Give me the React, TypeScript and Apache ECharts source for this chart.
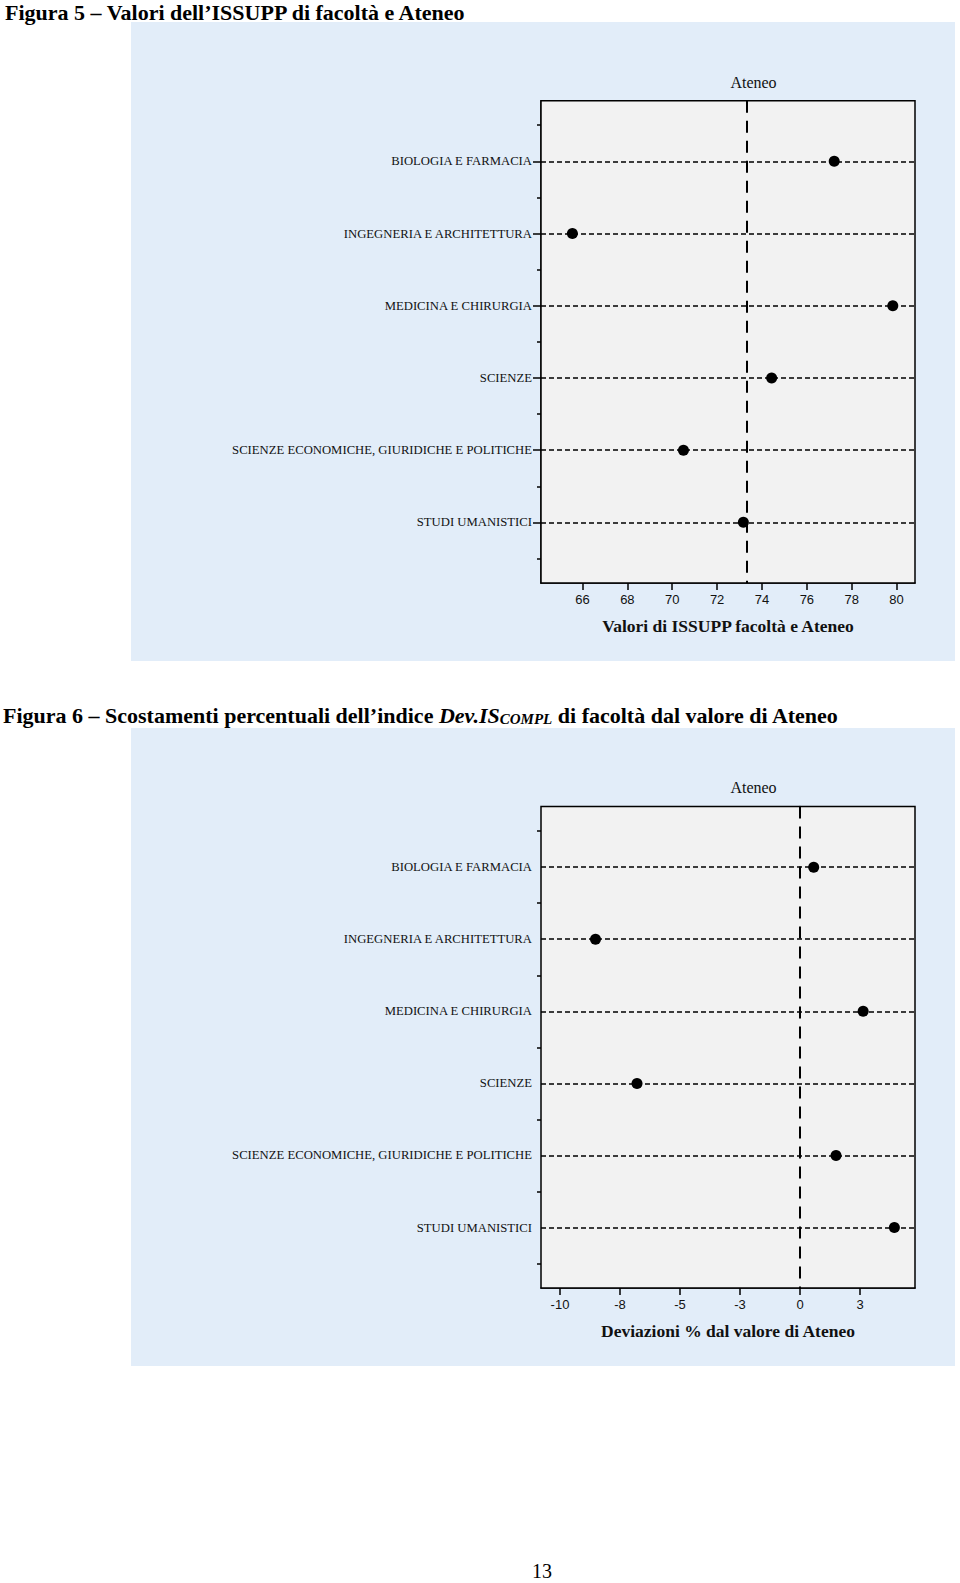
import React, { useEffect, useRef } from "react";
import * as echarts from "echarts";

const categories = [
  "BIOLOGIA E FARMACIA",
  "INGEGNERIA E ARCHITETTURA",
  "MEDICINA E CHIRURGIA",
  "SCIENZE",
  "SCIENZE ECONOMICHE, GIURIDICHE E POLITICHE",
  "STUDI UMANISTICI",
];
const categoryPositions = [1, 2, 3, 4, 5, 6];
const categoryMinorTicks = [0.5, 1.5, 2.5, 3.5, 4.5, 5.5, 6.5];

const issuppValues = [77.22, 65.55, 79.83, 74.43, 70.5, 73.17];
const issuppAteneo = 73.33;
const issuppTicks = [66, 68, 70, 72, 74, 76, 78, 80];

const devValues = [0.57, -8.52, 2.63, -6.79, 1.5, 3.93];
const devAteneo = 0;
const devTicks = [-10, -7.5, -5, -2.5, 0, 2.5];

const SERIF = "'Liberation Serif', 'Times New Roman', serif";
const SANS = "'Liberation Sans', Arial, sans-serif";
const PANEL = "#e2edf9";
const PLOT_BG = "#f2f2f2";

function roundAway(v: number) {
  return Math.sign(v) * Math.round(Math.abs(v));
}

export default function App() {
  const ref = useRef<HTMLDivElement>(null);
  useEffect(() => {
    if (!ref.current) return;
    const chart = echarts.init(ref.current, null, { renderer: "svg" });

    const grids = [
      { left: 541, top: 100.7, width: 374, height: 482.3 },
      { left: 541, top: 806.6, width: 374, height: 481.5 },
    ];

    const xRanges = [
      { min: 64.15, max: 80.82, ticks: issuppTicks, name: "Valori di ISSUPP facoltà e Ateneo" },
      { min: -10.79, max: 4.79, ticks: devTicks, name: "Deviazioni % dal valore di Ateneo" },
    ];

    const xAxis = xRanges.map((r, i) => ({
      type: "value",
      gridIndex: i,
      min: r.min,
      max: r.max,
      name: r.name,
      nameLocation: "middle",
      nameGap: 34,
      nameTextStyle: { fontFamily: SERIF, fontWeight: "bold", fontSize: 17.5, color: "#111" },
      axisLine: { show: true, lineStyle: { color: "#000", width: 1.5 } },
      axisTick: { show: true, customValues: r.ticks, length: 7, lineStyle: { color: "#000", width: 1.5 } },
      axisLabel: {
        show: true,
        customValues: r.ticks,
        margin: 10,
        fontFamily: SANS,
        fontSize: 13,
        color: "#111",
        formatter: (v: number) => String(roundAway(v)),
      },
      splitLine: { show: false },
    }));

    const yAxis: any[] = [];
    [0, 1].forEach((g) => {
      yAxis.push({
        type: "value",
        gridIndex: g,
        position: "left",
        inverse: true,
        min: 0.16,
        max: 6.84,
        axisLine: { show: true, lineStyle: { color: "#000", width: 1.5 } },
        axisTick: { show: true, customValues: categoryPositions, length: 8, lineStyle: { color: "#000", width: 1.5 } },
        axisLabel: {
          show: true,
          customValues: categoryPositions,
          margin: 9,
          fontFamily: SERIF,
          fontSize: 12.7,
          color: "#111",
          formatter: (v: number) => categories[Math.round(v) - 1] ?? "",
        },
        splitLine: { show: false },
      });
      yAxis.push({
        type: "value",
        gridIndex: g,
        position: "left",
        offset: 0,
        inverse: true,
        min: 0.16,
        max: 6.84,
        axisLine: { show: false },
        axisTick: { show: true, customValues: categoryMinorTicks, length: 4, lineStyle: { color: "#000", width: 1.5 } },
        axisLabel: { show: false },
        splitLine: { show: false },
      });
    });

    const datasets = [
      { values: issuppValues, ateneo: issuppAteneo },
      { values: devValues, ateneo: devAteneo },
    ];

    const series: any[] = [];
    datasets.forEach((d, g) => {
      series.push({
        type: "scatter",
        xAxisIndex: g,
        yAxisIndex: g * 2,
        data: [],
        z: 1,
        silent: true,
        markLine: {
          silent: true,
          symbol: ["none", "none"],
          label: { show: false },
          animation: false,
          data: [
            ...categoryPositions.map((p) => ({
              yAxis: p,
              lineStyle: { color: "#000", type: [5, 3], width: 1.5 },
            })),
            { xAxis: d.ateneo, lineStyle: { color: "#000", type: [12, 8], width: 2 } },
          ],
        },
      });
      series.push({
        type: "scatter",
        xAxisIndex: g,
        yAxisIndex: g * 2,
        z: 5,
        symbol: "circle",
        symbolSize: 11,
        itemStyle: { color: "#000", opacity: 1 },
        data: d.values.map((v, i) => [v, categoryPositions[i]]),
      });
    });

    chart.setOption({
      animation: false,
      backgroundColor: "#fff",
      grid: grids.map((g) => ({
        ...g,
        show: true,
        backgroundColor: PLOT_BG,
        borderColor: "#000",
        borderWidth: 1.5,
        z: 2,
      })),
      xAxis,
      yAxis,
      series,
      graphic: [
        { type: "rect", z: -10, shape: { x: 131, y: 22, width: 824, height: 639 }, style: { fill: PANEL } },
        { type: "rect", z: -10, shape: { x: 131, y: 728, width: 824, height: 638 }, style: { fill: PANEL } },
        {
          type: "text",
          x: 5,
          y: 12,
          style: {
            text: "Figura 5 – Valori dell’ISSUPP di facoltà e Ateneo",
            fontFamily: SERIF,
            fontWeight: "bold",
            fontSize: 22,
            fill: "#000",
            verticalAlign: "middle",
          },
        },
        {
          type: "text",
          x: 3,
          y: 715,
          style: {
            text: "{n|Figura 6 – Scostamenti percentuali dell’indice }{i|Dev.IS}{s|COMPL}{n| di facoltà dal valore di Ateneo}",
            verticalAlign: "middle",
            rich: {
              n: { fontFamily: SERIF, fontSize: 22, fontWeight: "bold", fill: "#000" },
              i: { fontFamily: SERIF, fontSize: 22, fontWeight: "bold", fontStyle: "italic", fill: "#000" },
              s: { fontFamily: SERIF, fontSize: 15, fontWeight: "bold", fontStyle: "italic", fill: "#000", verticalAlign: "bottom" },
            },
          },
        },
        {
          type: "text",
          x: 753.5,
          y: 82,
          style: { text: "Ateneo", fontFamily: SERIF, fontSize: 16, fill: "#111", align: "center", verticalAlign: "middle" },
        },
        {
          type: "text",
          x: 753.5,
          y: 787.5,
          style: { text: "Ateneo", fontFamily: SERIF, fontSize: 16, fill: "#111", align: "center", verticalAlign: "middle" },
        },
        {
          type: "text",
          x: 542,
          y: 1571,
          style: { text: "13", fontFamily: SERIF, fontSize: 20, fill: "#000", align: "center", verticalAlign: "middle" },
        },
      ],
    });

    return () => chart.dispose();
  }, []);

  return (
    <div
      ref={ref}
      style={{ position: "absolute", left: 0, top: 0, width: 960, height: 1583 }}
    />
  );
}
